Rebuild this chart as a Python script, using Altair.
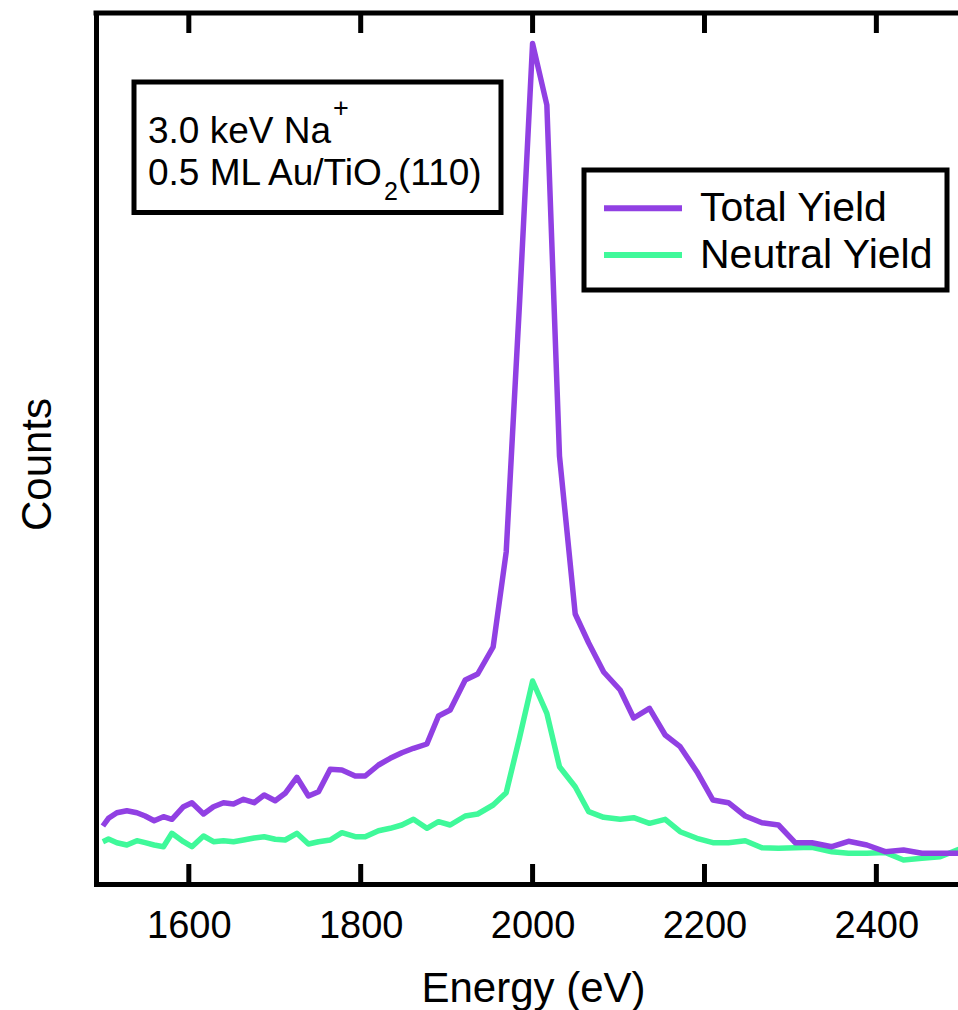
import altair as alt
import pandas as pd

# Ion scattering spectrum: 3.0 keV Na+ on 0.5 ML Au/TiO2(110)
energy_ev = [1500.0, 1506.5, 1516.3, 1527.9, 1539.6, 1549.2, 1559.7, 1570.5, 1580.3, 1593.8,
             1603.6, 1617.1, 1628.7, 1640.3, 1652.0, 1663.6, 1676.0, 1687.7, 1700.5, 1712.1,
             1725.7, 1739.2, 1750.9, 1764.5, 1778.1, 1793.6, 1805.2, 1820.7, 1834.3, 1847.9,
             1861.4, 1877.0, 1890.5, 1904.1, 1921.6, 1936.1, 1954.1, 1969.3, 1985.0, 2000.0,
             2016.6, 2031.3, 2049.6, 2065.3, 2082.7, 2101.9, 2117.6, 2136.0, 2154.3, 2171.7,
             2191.2, 2209.8, 2227.9, 2247.4, 2266.8, 2286.1, 2305.5, 2325.0, 2348.2, 2367.6,
             2389.0, 2410.3, 2431.6, 2453.0, 2474.3, 2496.0]

total_yield = [58, 65.7, 71.3, 73.3, 71.3, 68, 63.3, 67.3, 64.7, 77.3,
               81.3, 70, 77.3, 81.3, 80, 84.7, 81.3, 89, 83.3, 90.7,
               106.7, 88, 92.3, 114.7, 114, 108, 108, 119, 125.7, 131.3,
               135.7, 140, 168, 174, 204, 210, 237, 332, 584, 840.5,
               779, 428, 270, 241, 212, 194, 166, 175.7, 149, 137.3,
               112.3, 84, 81.3, 68, 61.3, 59, 41.3, 41.3, 37.3, 42.7,
               39, 32.3, 34, 30.7, 30.7, 30.7]

neutral_yield = [42.3, 45, 41.3, 39, 43.3, 41.3, 39, 37.3, 50.7, 42.3,
                 37.3, 48, 42.3, 43.3, 42.3, 44, 46, 47.3, 44.7, 44,
                 50.7, 40, 42.3, 44, 51.3, 47.3, 47.3, 53.3, 55.7, 59,
                 64.7, 55.7, 62.3, 59, 68, 70, 79, 91.3, 147, 203,
                 170.7, 117.3, 97.3, 72.3, 66.7, 64.7, 66.3, 60.7, 64.7, 52.3,
                 45.7, 41.3, 41.3, 43.3, 36.3, 35.7, 36.3, 36.7, 32.3, 30.7,
                 30.7, 31.5, 24, 25.7, 27.3, 34.7]

tick_values = [1600, 1800, 2000, 2200, 2400]
series_names = ["Total Yield", "Neutral Yield"]
series_colors = ["#9140E3", "#3FF99A"]

FONT = "Liberation Sans"
W, H = 862, 871
X_DOMAIN = [1492, 2495]
TICK_LEN = 20
TICK_W = 5

total_df = pd.DataFrame({"energy": energy_ev, "counts": total_yield})
neutral_df = pd.DataFrame({"energy": energy_ev, "counts": neutral_yield})
one = pd.DataFrame({"k": [0]})

x_scale = alt.Scale(domain=X_DOMAIN, nice=False, zero=False)
y_scale = alt.Scale(domain=[0, 871], nice=False, zero=False)

x_axis = alt.Axis(values=tick_values, format="d", grid=False, ticks=False, tickSize=0,
                  domain=True, domainColor="black", domainWidth=5, domainCap="square",
                  labelFont=FONT, labelFontSize=38, labelColor="black",
                  labelBaseline="alphabetic", labelPadding=53,
                  title="Energy (eV)", titleFont=FONT, titleFontSize=42,
                  titleFontWeight="normal", titleColor="black",
                  titleX=437, titleY=117, titleAlign="center", titleBaseline="alphabetic")
y_axis = alt.Axis(grid=False, ticks=False, labels=False, tickSize=0,
                  domain=True, domainColor="black", domainWidth=5, domainCap="square",
                  title="Counts", titleFont=FONT, titleFontSize=42,
                  titleFontWeight="normal", titleColor="black", titleAngle=270,
                  titleX=-46, titleY=451, titleAlign="center", titleBaseline="alphabetic")


def spectrum(df, color):
    return alt.Chart(df).mark_line(color=color, strokeWidth=5.5, clip=True,
                                   strokeJoin="round").encode(
        x=alt.X("energy:Q", scale=x_scale, axis=x_axis),
        y=alt.Y("counts:Q", scale=y_scale, axis=y_axis),
    )


neutral_line = spectrum(neutral_df, series_colors[1])
total_line = spectrum(total_df, series_colors[0])


def energy_to_px(v):
    # same linear mapping as x_scale
    return (v - X_DOMAIN[0]) / (X_DOMAIN[1] - X_DOMAIN[0]) * W


# inward ticks on the bottom and top edges of the frame, drawn as thin filled bars
tick_marks = []
for v in tick_values:
    px = energy_to_px(v)
    for y0, y1 in [(H - TICK_LEN, H), (0, TICK_LEN)]:
        tick_marks.append(
            alt.Chart(one).mark_rect(fill="black", stroke=None).encode(
                x=alt.value(px - TICK_W / 2), x2=alt.value(px + TICK_W / 2),
                y=alt.value(y0), y2=alt.value(y1)))

top_edge = alt.Chart(one).mark_rule(color="black", strokeWidth=5, strokeCap="square").encode(
    x=alt.value(0), x2=alt.value(W), y=alt.value(0))

# sample description box
info_box = alt.Chart(one).mark_rect(fill="white", stroke="black", strokeWidth=5).encode(
    x=alt.value(38), x2=alt.value(405), y=alt.value(69), y2=alt.value(199.5))


def text_at(txt, x, y, size):
    return alt.Chart(one).mark_text(text=txt, font=FONT, fontSize=size, color="black",
                                    align="left", baseline="alphabetic").encode(
        x=alt.value(x), y=alt.value(y))


info_text = [
    text_at("3.0 keV Na", 52, 130, 37),
    text_at("+", 237, 104, 27),
    text_at("0.5 ML Au/TiO", 52, 172, 37),
    text_at("2", 288, 187, 25),
    text_at("(110)", 302, 172, 37),
]

# legend box
legend_box = alt.Chart(one).mark_rect(fill="white", stroke="black", strokeWidth=5).encode(
    x=alt.value(488), x2=alt.value(851), y=alt.value(157), y2=alt.value(277))
legend_marks = []
for name, color, ly in zip(series_names, series_colors, [195.3, 242]):
    legend_marks.append(
        alt.Chart(one).mark_rule(color=color, strokeWidth=6).encode(
            x=alt.value(508), x2=alt.value(586), y=alt.value(ly)))
    legend_marks.append(text_at(name, 604, ly + 13, 41))

chart = alt.layer(
    neutral_line, total_line, *tick_marks, top_edge,
    info_box, *info_text, legend_box, *legend_marks,
).properties(
    width=W, height=H,
    autosize=alt.AutoSizeParams(type="none"),
    padding={"left": 96, "top": 13, "right": 0, "bottom": 126},
    background="white",
).configure_view(stroke=None)

chart.save("out.html", embed_options={"renderer": "svg", "actions": False})
